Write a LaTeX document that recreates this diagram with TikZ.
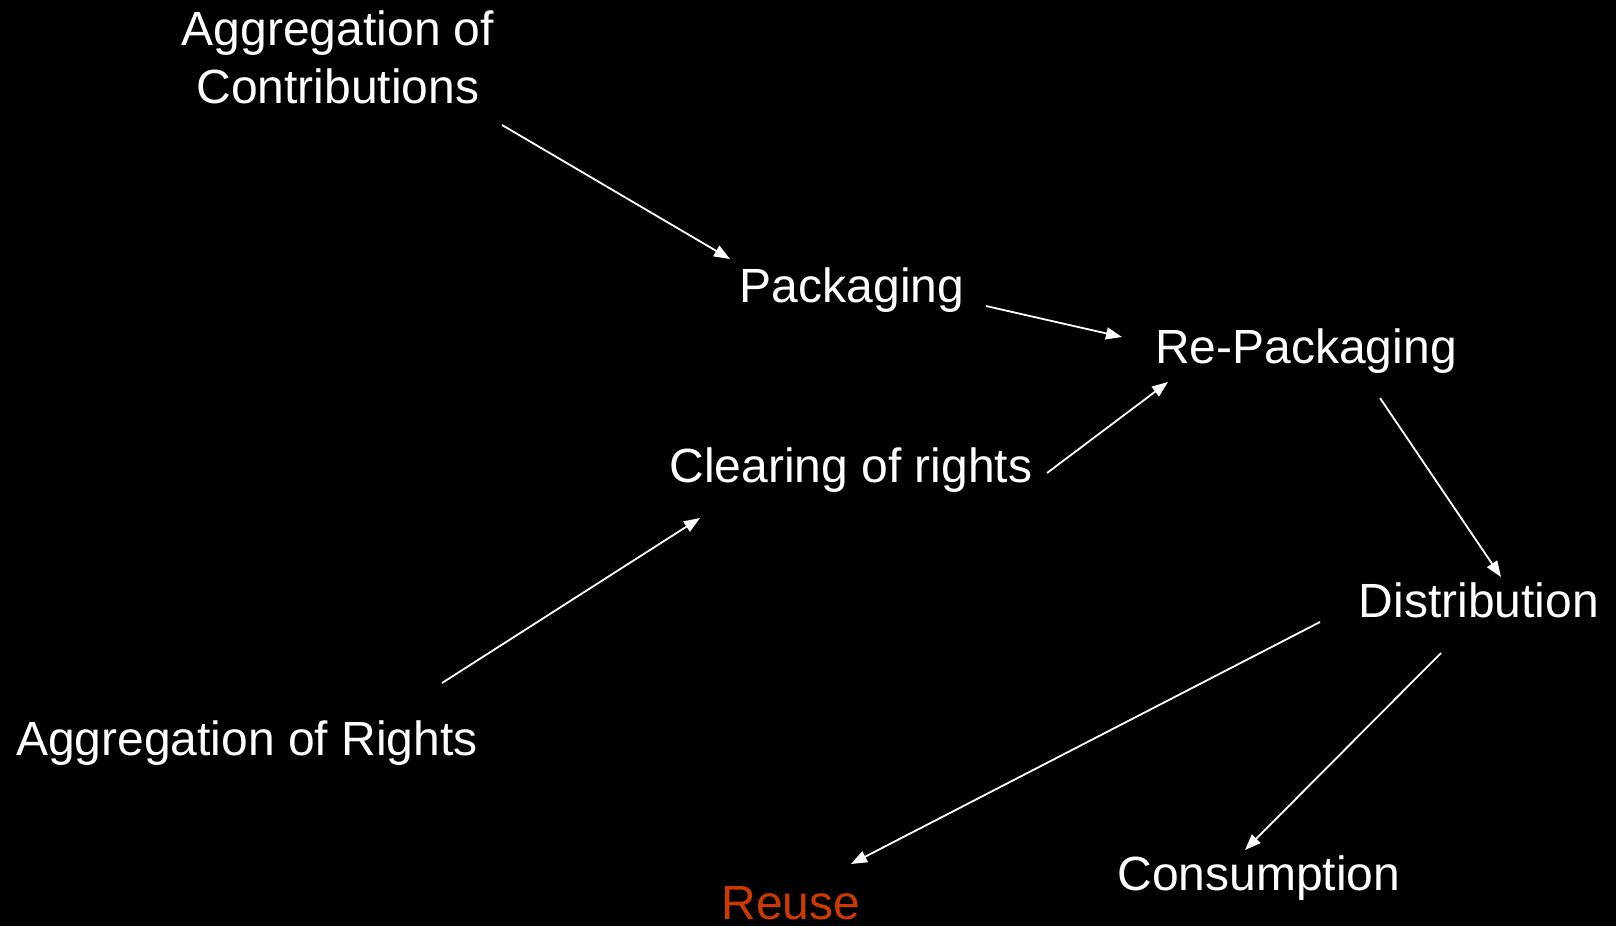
\documentclass[tikz,border=0pt]{standalone}
\usepackage{fontspec}
\setmainfont{Liberation Sans}
\usetikzlibrary{arrows.meta}
\definecolor{reusecol}{RGB}{204,58,0}
\begin{document}
\begin{tikzpicture}[x=1pt,y=-1pt,
  lbl/.style={text=white,font=\fontsize{48}{57.6}\selectfont,inner sep=0pt,anchor=base,align=center},
  arr/.style={draw=white,line width=1.8pt,-{Triangle[length=16pt,width=12pt]}}]
\fill[black] (0,0) rectangle (1616,926);
\useasboundingbox (0,0) rectangle (1616,926);
% nodes
\node[lbl] (agc1) at (338,45) {Aggregation of};
\node[lbl] (agc) at (338,103) {Contributions};
\node[lbl] (pkg) at (852,302) {Packaging};
\node[lbl] (rep) at (1306,363) {Re-Packaging};
\node[lbl] (clr) at (851,482) {Clearing of rights};
\node[lbl] (dis) at (1479,617) {Distribution};
\node[lbl] (agr) at (247,755) {Aggregation of Rights};
\node[lbl] (con) at (1259,890) {Consumption};
\node[lbl,text=reusecol] (reu) at (791,919) {Reuse};
% connector ends
\coordinate (agc-out) at (502,125);
\coordinate (pkg-in) at (730,259);
\coordinate (pkg-out) at (986,306);
\coordinate (rep-in1) at (1122,337);
\coordinate (clr-out) at (1047,473);
\coordinate (rep-in2) at (1168,382);
\coordinate (agr-out) at (442,683);
\coordinate (clr-in) at (700,518);
\coordinate (rep-out) at (1380,398);
\coordinate (dis-in) at (1501,577);
\coordinate (dis-out1) at (1320,622);
\coordinate (reu-in) at (851,864);
\coordinate (dis-out2) at (1441,653);
\coordinate (con-in) at (1245,850);
% connectors
\draw[arr] (agc-out) -- (pkg-in);
\draw[arr] (pkg-out) -- (rep-in1);
\draw[arr] (clr-out) -- (rep-in2);
\draw[arr] (agr-out) -- (clr-in);
\draw[arr] (rep-out) -- (dis-in);
\draw[arr] (dis-out1) -- (reu-in);
\draw[arr] (dis-out2) -- (con-in);
\end{tikzpicture}
\end{document}
